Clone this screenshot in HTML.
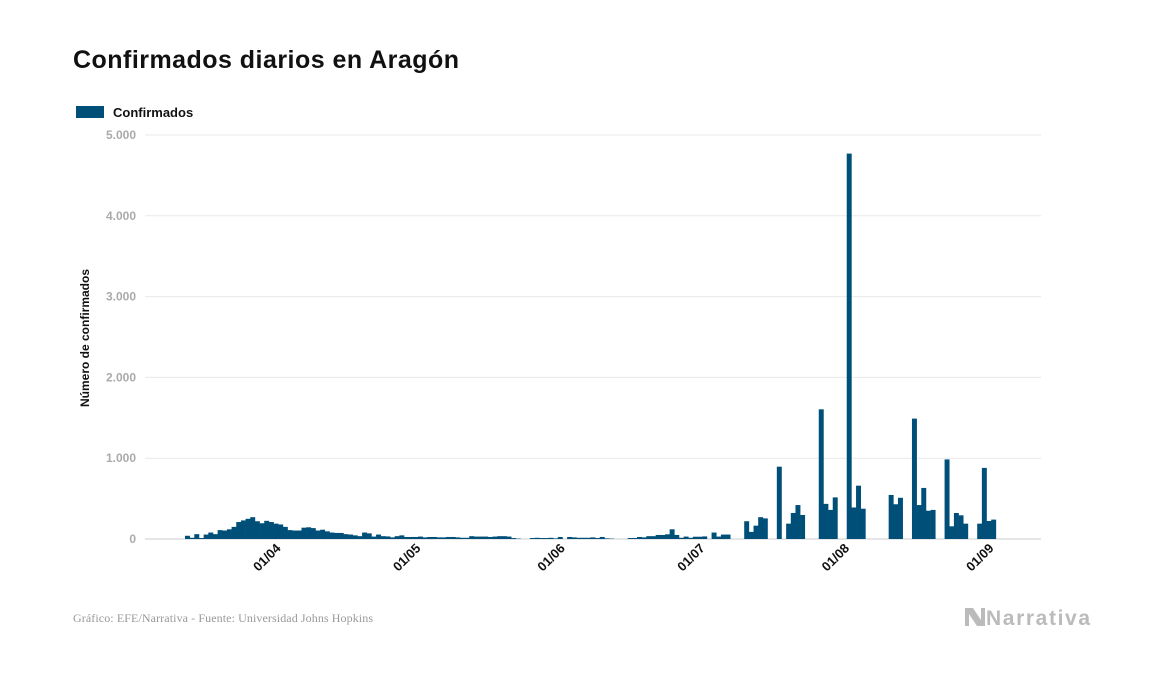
<!DOCTYPE html>
<html><head><meta charset="utf-8"><style>
body{margin:0;background:#fff;width:1157px;height:674px;overflow:hidden;font-family:"Liberation Sans",sans-serif}
</style></head><body>
<svg width="1157" height="674" xmlns="http://www.w3.org/2000/svg" id="chart">
<text x="73" y="68" font-size="25" font-weight="bold" fill="#111" textLength="386">Confirmados diarios en Aragón</text>
<g><rect x="76" y="106" width="28" height="12" fill="#004f78"/><text x="113" y="117" font-size="13" font-weight="bold" fill="#111">Confirmados</text></g>
<text transform="translate(89,338) rotate(-90)" text-anchor="middle" font-size="12" font-weight="bold" fill="#111">Número de confirmados</text>
<g id="grid"></g><g id="bars"></g><g id="xt"></g>
<text x="73" y="622" font-family="Liberation Serif,serif" font-size="12" fill="#999" textLength="300">Gráfico: EFE/Narrativa - Fuente: Universidad Johns Hopkins</text>
<g><path d="M965 608 l8 0 l8 12 l0 -12 l4 0 l0 18 l-8 0 l-8 -12 l0 12 l-4 0z" fill="#bbb"/><text x="986" y="625" font-size="21" font-weight="bold" fill="#bbb" textLength="104">Narrativa</text></g>
</svg>
<script>
const yTicks=[0,1000,2000,3000,4000,5000];
const yTickLabels=["0","1.000","2.000","3.000","4.000","5.000"];
const xTickIdx=[20,50,81,111,142,173];
const xTickLabels=["01/04","01/05","01/06","01/07","01/08","01/09"];
const valuesMarApr=[40,15,60,12,55,80,60,110,105,120,150,210,230,250,270,220,195,225,210,190,180,150,110,105,105,140,145,135,105,115,95,80,75,75,60,55,45,35,80,70,30,55,35,32,20,35,45,25,25,25,30,20,25,25,20];
const valuesMayJul=[20,25,25,20,15,15,35,30,30,30,25,30,35,35,30,12,5,0,0,12,15,12,12,15,8,25,0,25,20,15,15,15,20,12,25,8,5,0,0,0,12,12,25,20,35,35,50,50,58,120,50,15,30,15,28,28,32,0,80,30,55,55];
const valuesJulSep=[0,0,0,220,88,165,270,255,0,0,895,0,190,322,420,297,0,0,0,1605,435,360,515,0,0,4770,390,660,375,0,0,0,0,0,545,430,510,0,0,1490,420,632,350,360,0,0,985,157,322,293,190,0,0,190,880,223,240];
const values=valuesMarApr.concat(valuesMayJul,valuesJulSep);
const NS="http://www.w3.org/2000/svg";
const x0=185,bw=4.66,yB=539,yT=135,yMax=5000;
const xS=i=>x0+i*bw;
const yS=v=>yB-(v/yMax)*(yB-yT);
const grid=document.getElementById('grid'),bars=document.getElementById('bars'),xt=document.getElementById('xt');
yTicks.forEach((t,k)=>{
 const l=document.createElementNS(NS,'line');
 l.setAttribute('x1',145);l.setAttribute('x2',1041);l.setAttribute('y1',yS(t));l.setAttribute('y2',yS(t));
 l.setAttribute('stroke',t===0?'#ccc':'#e8e8e8');
 
 
 grid.appendChild(l);
 const tx=document.createElementNS(NS,'text');
 tx.setAttribute('x',136);tx.setAttribute('y',yS(t)+4);tx.setAttribute('text-anchor','end');
 tx.setAttribute('font-size','12');tx.setAttribute('font-weight','bold');tx.setAttribute('fill','#aaa');
 tx.textContent=yTickLabels[k];
 
 
 grid.appendChild(tx);
});
values.forEach((v,i)=>{
 if(v<=0)return;
 const r=document.createElementNS(NS,'rect');
 r.setAttribute('x',xS(i));r.setAttribute('width',bw+0.3);
 r.setAttribute('y',yS(v));r.setAttribute('height',yB-yS(v));
 r.setAttribute('fill','#004f78');
 
 
 bars.appendChild(r);
});
xTickIdx.forEach((d,k)=>{
 const cx=xS(d)+bw/2;
 const tx=document.createElementNS(NS,'text');
 tx.setAttribute('transform','translate('+(cx+1)+',549) rotate(-45)');
 tx.setAttribute('text-anchor','end');
 tx.setAttribute('font-size','13');tx.setAttribute('font-weight','bold');tx.setAttribute('fill','#111');
 tx.textContent=xTickLabels[k];
 
 
 xt.appendChild(tx);
});
</script>
</body></html>
